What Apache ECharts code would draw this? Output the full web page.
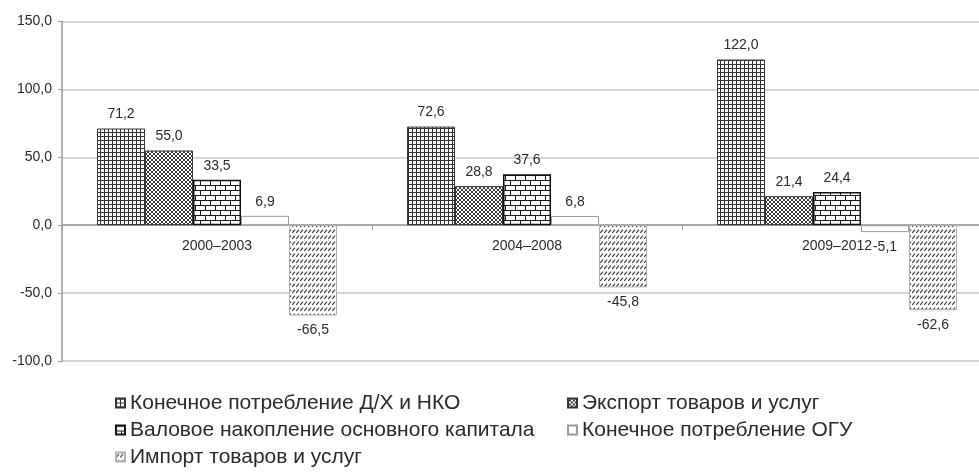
<!DOCTYPE html>
<html>
<head>
<meta charset="utf-8">
<script src="https://cdn.jsdelivr.net/npm/echarts@6/dist/echarts.min.js"></script>
<style>
  html, body { margin: 0; padding: 0; background: #ffffff; }
  #chart { width: 979px; height: 472px; }
</style>
</head>
<body>
<div id="chart"></div>
<script>
// Periods and contributions by GDP component
const periods = ['2000–2003', '2004–2008', '2009–2012'];
const householdConsumption = [71.2, 72.6, 122.0];
const exportsGoods = [55.0, 28.8, 21.4];
const fixedCapital = [33.5, 37.6, 24.4];
const govConsumption = [6.9, 6.8, -5.1];
const importsGoods = [-66.5, -45.8, -62.6];
const yTicks = [-100, -50, 0, 50, 100, 150];

const names = {
  household: 'Конечное потребление Д/Х и НКО',
  exports: 'Экспорт товаров и услуг',
  capital: 'Валовое накопление основного капитала',
  gov: 'Конечное потребление ОГУ',
  imports: 'Импорт товаров и услуг'
};

const FONT = '"Liberation Sans", Arial, sans-serif';
const TEXT = '#2a2a2a';

// Small repeating tiles used as hatch fills
function tile(w, h, draw) {
  const c = document.createElement('canvas');
  c.width = w; c.height = h;
  const g = c.getContext('2d');
  g.fillStyle = '#ffffff';
  g.fillRect(0, 0, w, h);
  draw(g);
  return { image: c, repeat: 'repeat' };
}

const gridFill = tile(4, 4, g => {
  g.fillStyle = '#333333';
  g.fillRect(0, 0, 4, 1);
  g.fillRect(0, 0, 1, 4);
});

const checkFill = tile(4, 4, g => {
  g.fillStyle = '#3a3a3a';
  for (let i = 0; i < 4; i++) {
    g.fillRect(i, i, 1, 1);
    g.fillRect(3 - i, i, 1, 1);
  }
});

const brickFill = tile(10, 10, g => {
  g.fillStyle = '#1a1a1a';
  g.fillRect(0, 0, 10, 1);
  g.fillRect(0, 5, 10, 1);
  g.fillRect(0, 0, 1, 5);
  g.fillRect(5, 5, 1, 5);
});

const diagFill = tile(4, 6, g => {
  g.strokeStyle = '#333333';
  g.lineWidth = 1.1;
  g.beginPath();
  g.moveTo(0.2, 4.8);
  g.lineTo(3.0, 1.6);
  g.stroke();
});

const fmt = v => Number(v).toFixed(1).replace('.', ',');

const labelBase = {
  show: true,
  fontFamily: FONT,
  fontSize: 14,
  color: TEXT,
  formatter: p => fmt(p.value)
};

function barSeries(name, data, fill, border, borderWidth) {
  return {
    name: name,
    type: 'bar',
    data: data.map(v => ({
      value: v,
      label: Object.assign({}, labelBase, {
        position: v >= 0 ? 'top' : 'bottom',
        distance: v >= 0 ? 7 : 8
      })
    })),
    barWidth: 48,
    barGap: '0%',
    itemStyle: { color: fill, borderColor: border, borderWidth: borderWidth },
    emphasis: { disabled: true }
  };
}

const gridTop = 21.5;
const gridHeight = 339.5;
// pixel distance from the bottom of the plot up to the zero line
const zeroOffset = gridHeight * (0 - yTicks[0]) / (yTicks[yTicks.length - 1] - yTicks[0]);

const legendText = { fontFamily: FONT, fontSize: 21, color: TEXT, lineHeight: 27 };

const chart = echarts.init(document.getElementById('chart'), null, { renderer: 'canvas' });

chart.setOption({
  animation: false,
  backgroundColor: '#ffffff',
  textStyle: { fontFamily: FONT },
  grid: {
    left: 62,
    top: gridTop,
    width: 930,
    height: gridHeight,
    containLabel: false,
    outerBoundsMode: 'none'
  },
  xAxis: {
    type: 'category',
    data: periods,
    position: 'bottom',
    offset: -zeroOffset,
    axisLine: { onZero: false, lineStyle: { color: '#9a9a9a', width: 1.5 } },
    axisTick: { show: true, length: 5, lineStyle: { color: '#9a9a9a' } },
    axisLabel: { fontFamily: FONT, fontSize: 14, color: TEXT, margin: 14 },
    splitLine: { show: false }
  },
  yAxis: {
    type: 'value',
    min: yTicks[0],
    max: yTicks[yTicks.length - 1],
    interval: yTicks[1] - yTicks[0],
    axisLine: { show: true, lineStyle: { color: '#9a9a9a', width: 1.5 } },
    axisTick: { show: true, length: 4, lineStyle: { color: '#9a9a9a' } },
    axisLabel: { fontFamily: FONT, fontSize: 14, color: TEXT, margin: 10, formatter: v => fmt(v) },
    splitLine: { lineStyle: { color: '#c6c6c6', width: 1.5 } }
  },
  legend: [
    {
      orient: 'vertical',
      left: 115,
      top: 389.5,
      padding: 0,
      icon: 'rect',
      itemWidth: 9,
      itemHeight: 9,
      itemGap: 0,
      selectedMode: false,
      textStyle: legendText,
      data: [names.household, names.capital, names.imports]
    },
    {
      orient: 'vertical',
      left: 567,
      top: 389.5,
      padding: 0,
      icon: 'rect',
      itemWidth: 9,
      itemHeight: 9,
      itemGap: 0,
      selectedMode: false,
      textStyle: legendText,
      data: [names.exports, names.gov]
    }
  ],
  series: [
    barSeries(names.household, householdConsumption, gridFill, '#333333', 1),
    barSeries(names.exports, exportsGoods, checkFill, '#333333', 1),
    barSeries(names.capital, fixedCapital, brickFill, '#111111', 1.5),
    barSeries(names.gov, govConsumption, '#ffffff', '#9a9a9a', 1),
    barSeries(names.imports, importsGoods, diagFill, '#b0b0b0', 1)
  ]
});
</script>
</body>
</html>
